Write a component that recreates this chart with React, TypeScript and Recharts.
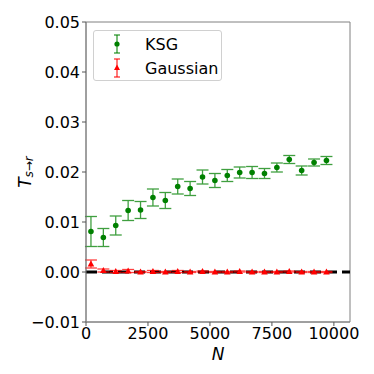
import React from 'react';
import { ScatterChart, Scatter, XAxis, YAxis, ErrorBar, ReferenceLine, ReferenceArea } from 'recharts';

const nValues = [200, 700, 1200, 1700, 2200, 2700, 3200, 3700, 4200, 4700, 5200, 5700, 6200, 6700, 7200, 7700, 8200, 8700, 9200, 9700];
const ksgValues = [0.0081, 0.0069, 0.0093, 0.0123, 0.0124, 0.0149, 0.0143, 0.0171, 0.0167, 0.0190, 0.0183, 0.0193, 0.0199, 0.0199, 0.0197, 0.0209, 0.0225, 0.0203, 0.0219, 0.0223];
const ksgErrors = [0.0030, 0.0018, 0.0019, 0.0020, 0.0017, 0.0017, 0.0016, 0.0015, 0.0014, 0.0014, 0.0014, 0.0012, 0.0011, 0.0012, 0.0010, 0.0009, 0.0008, 0.0009, 0.0007, 0.0008];
const gaussValues = [0.0016, 0.0003, 0.0001, 0.0002, 0.0000, 0.0001, 0.0000, 0.0001, 0.0000, 0.0001, 0.0000, 0.0000, 0.0001, 0.0000, 0.0000, 0.0000, 0.0001, 0.0000, 0.0000, 0.0000];
const gaussErrors = [0.0008, 0.0003, 0.0002, 0.0003, 0.0001, 0.0002, 0.0001, 0.0002, 0.0001, 0.0001, 0.0001, 0.0001, 0.0001, 0.0001, 0.0001, 0.0001, 0.0001, 0.0001, 0.0001, 0.0001];
const xTicks = [0, 2500, 5000, 7500, 10000];
const yTicks = [-0.01, 0, 0.01, 0.02, 0.03, 0.04, 0.05];
const seriesNames = ['KSG', 'Gaussian'];

const ksgData = nValues.map((n, i) => ({ n, v: ksgValues[i], err: ksgErrors[i] }));
const gaussData = nValues.map((n, i) => ({ n, v: gaussValues[i], err: gaussErrors[i] }));

const FONT = 'DejaVu Sans';
const GREEN = '#008000';
const RED = '#ff0000';

const Circle = (p: any) => <circle cx={p.cx} cy={p.cy} r={2.8} fill={GREEN} />;
const Tri = (p: any) => (
  <polygon points={`${p.cx},${p.cy - 3.5} ${p.cx - 3.3},${p.cy + 2.5} ${p.cx + 3.3},${p.cy + 2.5}`} fill={RED} />
);

const fmtY = (v: number) => {
  const s = Math.abs(v).toFixed(2);
  return v < 0 ? '\u2212' + s : s;
};

const LegendIcon = ({ color, tri }: { color: string; tri?: boolean }) => (
  <svg width={12} height={20} style={{ display: 'block' }}>
    <line x1={6} y1={1} x2={6} y2={19} stroke={color} strokeWidth={1.3} opacity={0.8} />
    <line x1={3} y1={1} x2={9} y2={1} stroke={color} strokeWidth={1.3} opacity={0.8} />
    <line x1={3} y1={19} x2={9} y2={19} stroke={color} strokeWidth={1.3} opacity={0.8} />
    {tri ? <polygon points="6,6.5 3,12 9,12" fill={color} /> : <circle cx={6} cy={10} r={2.6} fill={color} />}
  </svg>
);

const LegendBox = () => (
  <div style={{ position: 'absolute', left: 93, top: 30, border: '1px solid #d0d0d0', borderRadius: 3, background: 'rgba(255,255,255,0.8)', width: 127, height: 49, fontFamily: FONT, fontSize: 16, color: '#000' }}>
    {[GREEN, RED].map((c, i) => (
      <div key={i} style={{ display: 'flex', alignItems: 'center', height: 24, marginTop: i === 0 ? 1 : 0 }}>
        <div style={{ width: 17 }} />
        <LegendIcon color={c} tri={i === 1} />
        <div style={{ width: 22 }} />
        <span>{seriesNames[i]}</span>
      </div>
    ))}
  </div>
);

const YLabel = (props: any) => {
  const vb = props.viewBox || {};
  const cx = 25;
  const cy = (vb.y ?? 22) + (vb.height ?? 300) / 2;
  return (
    <text x={cx} y={cy} transform={`rotate(-90 ${cx} ${cy})`} textAnchor="middle" dominantBaseline="central" fontFamily={FONT} fontSize={17} fill="#000">
      <tspan fontStyle="italic">T</tspan>
      <tspan fontStyle="italic" fontSize={12} dy={4}>s→r</tspan>
    </text>
  );
};

export default function App() {
  return (
    <div style={{ position: 'absolute', left: 0, top: 0, width: 374, height: 374, background: '#fff' }}>
      <ScatterChart width={374} height={374} margin={{ top: 22, right: 24, left: 0, bottom: 0 }}>
        <XAxis
          type="number"
          dataKey="n"
          domain={[0, 10650]}
          ticks={xTicks}
          allowDataOverflow
          height={52}
          stroke="#808080"
          tickSize={4}
          tickMargin={2}
          tick={{ fill: '#000', fontSize: 16, fontFamily: FONT }}
          tickLine={{ stroke: '#555' }}
          label={{ value: 'N', position: 'insideBottom', offset: 14, fontStyle: 'italic', fontSize: 17, fontFamily: FONT, fill: '#000' }}
        />
        <YAxis
          type="number"
          dataKey="v"
          domain={[-0.01, 0.05]}
          ticks={yTicks}
          allowDataOverflow
          width={86}
          stroke="#808080"
          tickSize={4}
          tickMargin={2}
          tickFormatter={fmtY}
          tick={{ fill: '#000', fontSize: 16, fontFamily: FONT }}
          tickLine={{ stroke: '#555' }}
          label={<YLabel />}
        />
        <ReferenceArea x1={0} x2={10650} y1={-0.01} y2={0.05} fill="none" stroke="#808080" strokeWidth={1} />
        <ReferenceLine y={0} stroke="#000" strokeWidth={3} strokeDasharray="11 5" />
        <Scatter name="KSG" data={ksgData} shape={Circle} isAnimationActive={false}>
          <ErrorBar dataKey="err" direction="y" width={6} stroke={GREEN} strokeWidth={1.3} opacity={0.75} isAnimationActive={false} />
        </Scatter>
        <Scatter name="Gaussian" data={gaussData} shape={Tri} isAnimationActive={false}>
          <ErrorBar dataKey="err" direction="y" width={6} stroke={RED} strokeWidth={1.3} opacity={0.75} isAnimationActive={false} />
        </Scatter>
      </ScatterChart>
      <LegendBox />
    </div>
  );
}
